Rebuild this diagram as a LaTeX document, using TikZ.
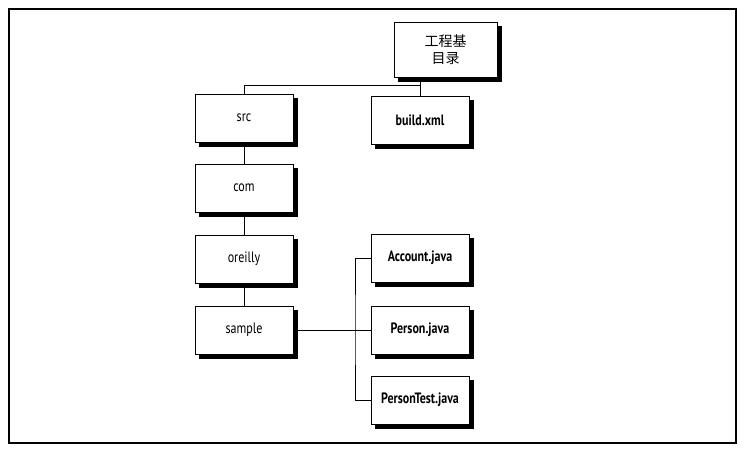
\documentclass[tikz,border=0pt]{standalone}
\usepackage{fontspec}
\setmainfont{PT Sans}[FakeStretch=0.8]
\newfontfamily\cjk{Noto Sans CJK SC}
\begin{document}
\begin{tikzpicture}[x=1pt, y=-1pt,
    dir/.style={rectangle, draw=black, line width=1pt, fill=white, minimum width=98pt, minimum height=48pt, inner sep=2pt, font=\fontsize{15}{17}\selectfont},
    file/.style={dir, font=\fontsize{15}{17}\selectfont\bfseries},
    rootdir/.style={dir, minimum width=103pt, minimum height=54pt, align=center, font=\cjk\fontsize{14}{17}\selectfont},
    dirshade/.style={rectangle, draw=black, fill=black, line width=1pt, minimum width=98pt, minimum height=48pt, inner sep=0pt},
    rootshade/.style={dirshade, minimum width=103pt, minimum height=54pt},
    link/.style={draw=black, line width=1pt}
]
    \useasboundingbox (0,0) rectangle (744,452);
    \draw[line width=1.2pt] (9,9) rectangle (736,443);

    % shadows, 4pt to the right and below each box
    \node[rootshade] (rootsh) at (449.5,54) {};
    \foreach \nm/\px/\py in {srcsh/248/122, comsh/248/192, oreillysh/248/263, samplesh/248/334,
                             buildsh/424/124, accountsh/424/262, personsh/424/334, persontestsh/424/404}
        \node[dirshade] (\nm) at (\px,\py) {};

    \node[rootdir] (root) at (445.5,50) {工程基\\目录};

    \node[dir] (src) at (244,118) {src};
    \node[dir] (com) at (244,188) {com};
    \node[dir] (oreilly) at (244,259) {oreilly};
    \node[dir] (sample) at (244,330) {sample};

    \node[file] (build) at (420,120) {build.xml};
    \node[file] (account) at (420,258) {Account.java};
    \node[file] (person) at (420,330) {Person.java};
    \node[file] (persontest) at (420,400) {PersonTest.java};

    \coordinate (jtop) at (420,85);
    \coordinate (trunk) at (355,330);

    \draw[link] (src.north) |- (jtop);
    \draw[link] (root.south -| build.north) -- (build.north);
    \draw[link] (src.south) -- (com.north);
    \draw[link] (com.south) -- (oreilly.north);
    \draw[link] (oreilly.south) -- (sample.north);
    \draw[link] (sample.east) -- (person.west);
    \draw[link] (account.west) -| (trunk) |- (persontest.west);
\end{tikzpicture}
\end{document}
